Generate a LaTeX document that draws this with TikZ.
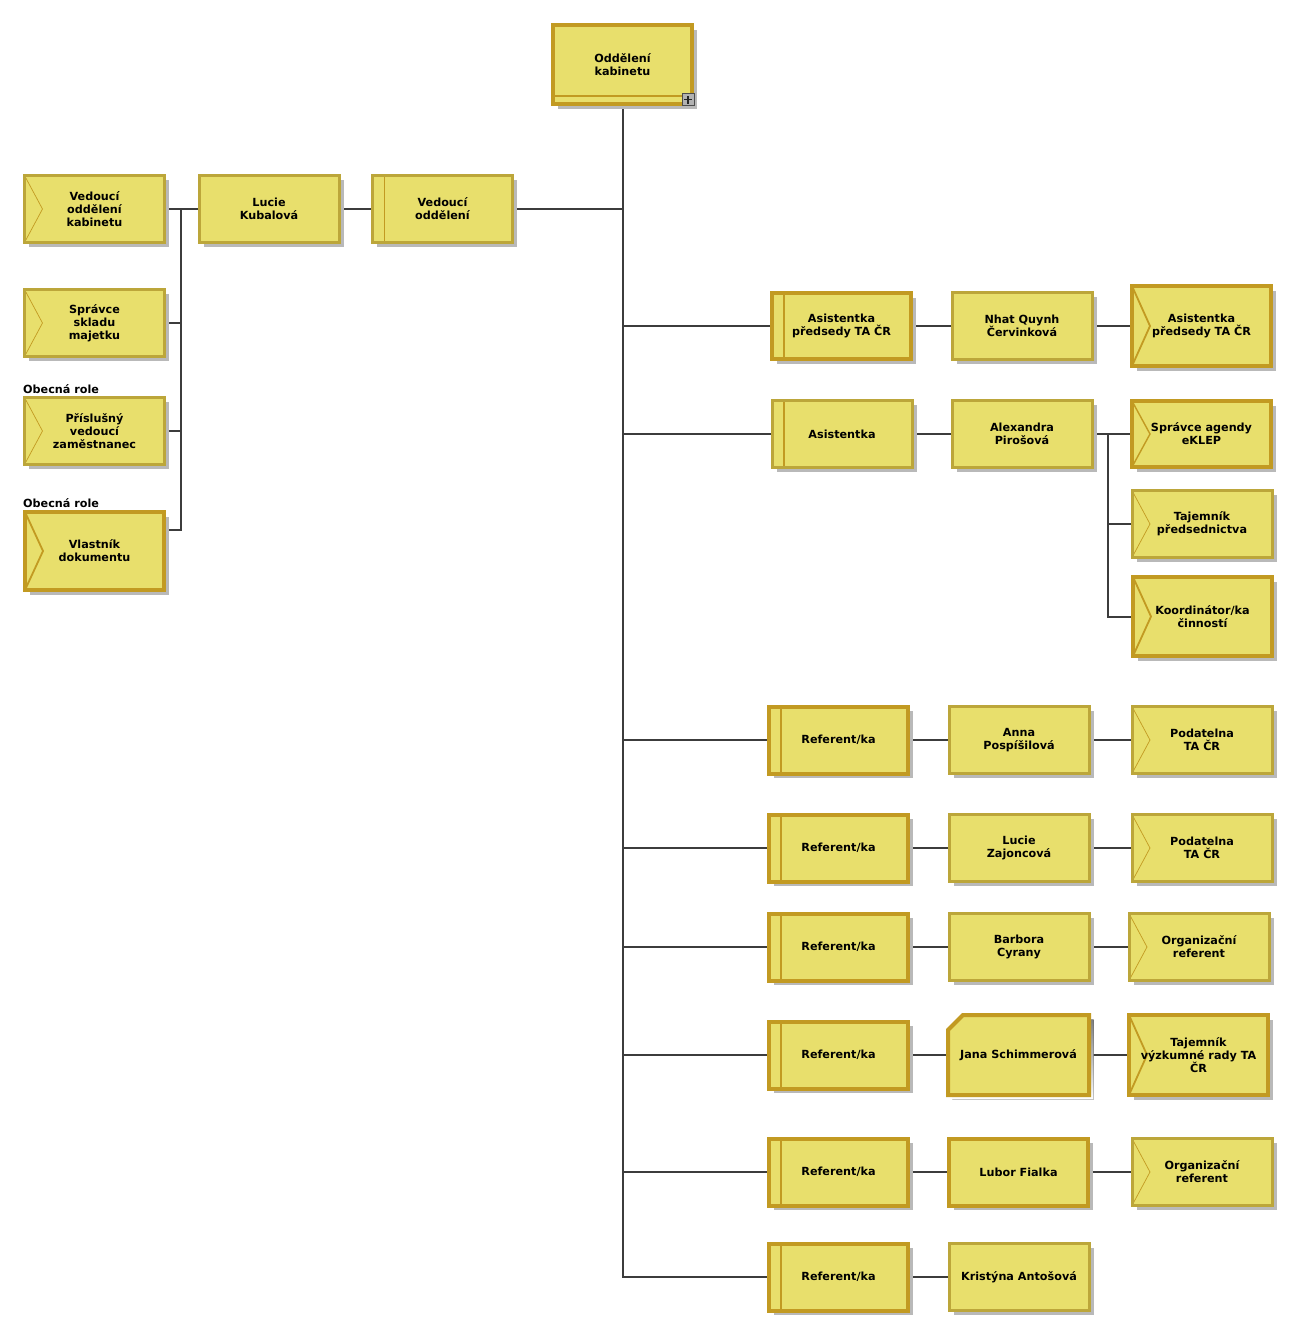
\documentclass[tikz,border=0pt]{standalone}
\usepackage{fontspec}
\setmainfont{DejaVu Sans}
\usetikzlibrary{shadows,backgrounds}
\definecolor{boxfill}{RGB}{232,223,108}
\definecolor{edgeA}{RGB}{188,166,58}
\definecolor{edgeB}{RGB}{194,154,34}
\definecolor{wire}{RGB}{60,60,60}
\definecolor{shade}{RGB}{185,185,185}
\newcommand\orgfont{\bfseries\fontsize{11.2}{13}\selectfont}
\begin{document}
\begin{tikzpicture}[x=1pt,y=-1pt,
  base/.style={rectangle, fill=boxfill, inner sep=0pt, align=center, font=\orgfont, text=black,
     drop shadow={shadow xshift=4.5pt, shadow yshift=-4.5pt, fill=shade, opacity=1}},
  thinbox/.style={base, draw=edgeA, line width=3pt, minimum width=140pt, minimum height=67pt},
  thickbox/.style={base, draw=edgeB, line width=4pt, minimum width=139pt, minimum height=67pt},
  hh/.style={minimum height=#1},
  chev/.style={path picture={\draw[edgeB, line width=#1] (path picture bounding box.north west) -- ([xshift=18pt]path picture bounding box.west) -- (path picture bounding box.south west);}},
  posn/.style={path picture={\draw[edgeB, line width=1.5pt] ([xshift=12pt]path picture bounding box.north west) -- ([xshift=12pt]path picture bounding box.south west);}},
  wire/.style={draw=wire, line width=2pt},
  lab/.style={anchor=west, inner sep=0pt, font=\orgfont}
]
\useasboundingbox (0,0) rectangle (1308,1336);

% top
\node[thickbox, hh=79pt, path picture={\draw[edgeB, line width=1.5pt] ([yshift=8pt]path picture bounding box.south west) -- ([yshift=8pt]path picture bounding box.south east);}] (top) at (622.5,64.5) {Oddělení\\kabinetu};
\node[draw=black!70, fill=black!30, line width=1pt, minimum size=12pt, inner sep=0pt] (plus) at (688,99.5) {};
\draw[black!85, line width=1.5pt] ([xshift=-4pt]plus.center) -- ([xshift=4pt]plus.center);
\draw[black!85, line width=1.5pt] ([yshift=-4pt]plus.center) -- ([yshift=4pt]plus.center);

% left part
\node[thinbox, chev=0.7pt] (vok) at (94.5,209) {Vedoucí\\oddělení\\kabinetu};
\node[thinbox] (lk) at (269,209) {Lucie\\Kubalová};
\node[thinbox, posn] (vo) at (442.5,209) {Vedoucí\\oddělení};
\node[thinbox, chev=0.7pt] (ssm) at (94.5,323) {Správce\\skladu\\majetku};
\node[lab] (lab1) at (23,389) {Obecná role};
\node[thinbox, chev=0.7pt] (pvz) at (94.5,431) {Příslušný\\vedoucí\\zaměstnanec};
\node[lab] (lab2) at (23,503) {Obecná role};
\node[thickbox, hh=78pt, chev=1.8pt] (vd) at (94.5,551) {Vlastník\\dokumentu};

% row 1
\node[thickbox, hh=66pt, posn] (r1a) at (841.5,326) {Asistentka\\předsedy TA ČR};
\node[thinbox] (r1b) at (1022,326) {Nhat Quynh\\Červinková};
\node[thickbox, hh=80pt, chev=1.8pt] (r1c) at (1201.5,326) {Asistentka\\předsedy TA ČR};
% row 2
\node[thinbox, posn] (r2a) at (842,434) {Asistentka};
\node[thinbox] (r2b) at (1022,434) {Alexandra\\Pirošová};
\node[thickbox, hh=66pt, chev=1.4pt] (r2c) at (1201.5,434) {Správce agendy\\eKLEP};
\node[thinbox, chev=0.7pt] (r2d) at (1202,524) {Tajemník\\předsednictva};
\node[thickbox, hh=79pt, chev=1.8pt] (r2e) at (1202.5,616.5) {Koordinátor/ka\\činností};
% row 3
\node[thickbox, posn] (r3a) at (838.5,740) {Referent/ka};
\node[thinbox] (r3b) at (1019,740) {Anna\\Pospíšilová};
\node[thinbox, chev=0.7pt] (r3c) at (1202,740) {Podatelna\\TA ČR};
% row 4
\node[thickbox, posn] (r4a) at (838.5,848) {Referent/ka};
\node[thinbox] (r4b) at (1019,848) {Lucie\\Zajoncová};
\node[thinbox, chev=0.7pt] (r4c) at (1202,848) {Podatelna\\TA ČR};
% row 5
\node[thickbox, posn] (r5a) at (838.5,947) {Referent/ka};
\node[thinbox] (r5b) at (1019,947) {Barbora\\Cyrany};
\node[thinbox, chev=0.7pt] (r5c) at (1199,947) {Organizační\\referent};
% row 6
\node[thickbox, posn] (r6a) at (838.5,1055) {Referent/ka};
\fill[shade] (967,1019.5) -- (1093.5,1019.5) -- (1093.5,1099.5) -- (952.5,1099.5) -- (952.5,1034) -- cycle;
\filldraw[fill=boxfill, draw=edgeB, line width=4pt, line join=miter] (963,1015) -- (1089,1015) -- (1089,1095) -- (948,1095) -- (948,1030) -- cycle;
\node[inner sep=0pt, minimum width=145pt, minimum height=84pt, font=\orgfont, align=center] (r6b) at (1018.5,1055) {Jana Schimmerová};
\node[thickbox, hh=80pt, chev=1.8pt] (r6c) at (1198.5,1055) {Tajemník\\výzkumné rady TA\\ČR};
% row 7
\node[thickbox, posn] (r7a) at (838.5,1172) {Referent/ka};
\node[thickbox] (r7b) at (1018.5,1172) {Lubor Fialka};
\node[thinbox, chev=0.7pt] (r7c) at (1202,1172) {Organizační\\referent};
% row 8
\node[thickbox, posn] (r8a) at (838.5,1277) {Referent/ka};
\node[thinbox] (r8b) at (1019,1277) {Kristýna Antošová};

\begin{pgfonlayer}{background}
  \draw[wire] (vok) -- (lk);
  \draw[wire] (lk) -- (vo);
  \draw[wire] (vo.east) -- (vo.east -| top.south);
  \coordinate (lbus) at (181,209);
  \coordinate (lbend) at (181,530);
  \draw[wire] (lbus) -- (lbend) -- (lbend -| vd.east);
  \draw[wire] (ssm.east) -- (ssm.east -| lbus);
  \draw[wire] (pvz.east) -- (pvz.east -| lbus);
  \draw[wire] (top.south) -- (top.south |- r8a.west) -- (r8a.west);
  \foreach \r in {r1a,r2a,r3a,r4a,r5a,r6a,r7a}
    \draw[wire] (top.south |- \r.west) -- (\r.west);
  \draw[wire] (r1a) -- (r1b);  \draw[wire] (r1b) -- (r1c);
  \draw[wire] (r2a) -- (r2b);  \draw[wire] (r2b) -- (r2c);
  \coordinate (rbus) at (1108,434);
  \draw[wire] (rbus) |- (r2e.west);
  \draw[wire] (r2d.west) -- (r2d.west -| rbus);
  \draw[wire] (r3a) -- (r3b);  \draw[wire] (r3b) -- (r3c);
  \draw[wire] (r4a) -- (r4b);  \draw[wire] (r4b) -- (r4c);
  \draw[wire] (r5a) -- (r5b);  \draw[wire] (r5b) -- (r5c);
  \draw[wire] (r6a) -- (r6b);  \draw[wire] (r6b) -- (r6c);
  \draw[wire] (r7a) -- (r7b);  \draw[wire] (r7b) -- (r7c);
  \draw[wire] (r8a) -- (r8b);
\end{pgfonlayer}
\end{tikzpicture}
\end{document}
